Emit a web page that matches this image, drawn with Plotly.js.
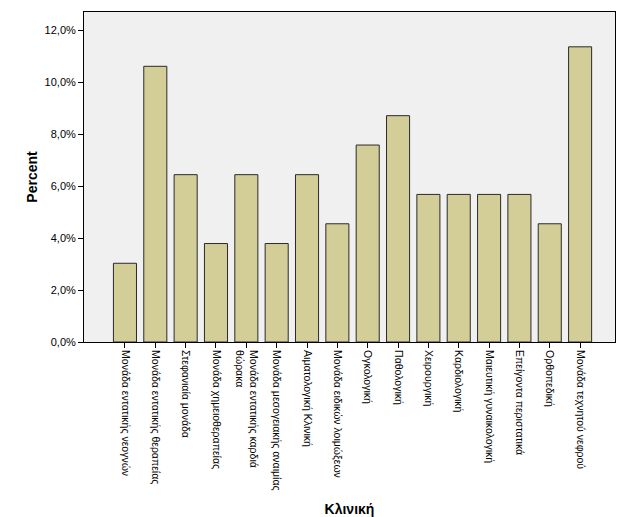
<!DOCTYPE html>
<html>
<head>
<meta charset="utf-8">
<script src="https://cdn.plot.ly/plotly-3.0.1.min.js"></script>
<style>html,body{margin:0;padding:0;background:#fff;}#chart{width:635px;height:517px;}</style>
</head>
<body>
<div id="chart"></div>
<script>
const categories = [
  "Μονάδα εντατικής νεογνών",
  "Μονάδα εντατικής θεραπείας",
  "Στεφανιαία μονάδα",
  "Μονάδα χημειοθεραπείας",
  "Μονάδα εντατικής καρδιά<br>θώρακα",
  "Μονάδα μεσογειακής αναιμίας",
  "Αιματολογική Κλινική",
  "Μονάδα ειδικών λοιμώξεων",
  "Ογκολογική",
  "Παθολογική",
  "Χειρουργική",
  "Καρδιολογική",
  "Μαιευτική γυναικολογική",
  "Επείγοντα περιστατικά",
  "Ορθοπεδική",
  "Μονάδα τεχνητού νεφρού"
];
const percents = [3.03, 10.61, 6.44, 3.79, 6.44, 3.79, 6.44, 4.55, 7.58, 8.71, 5.68, 5.68, 5.68, 5.68, 4.55, 11.36];
const yTicks = [0, 2, 4, 6, 8, 10, 12];

const xIdx = categories.map((c, i) => i);

const trace = {
  type: 'bar',
  x: xIdx,
  y: percents,
  width: 0.76,
  marker: { color: '#d3ce98', line: { color: '#2a2a2a', width: 1 } },
  hoverinfo: 'none'
};

const layout = {
  width: 635, height: 517,
  margin: { l: 84, r: 20, t: 12, b: 175 },
  paper_bgcolor: '#ffffff',
  plot_bgcolor: '#f0f0f0',
  separators: ',.',
  font: { family: 'Liberation Sans, Arial, sans-serif', color: '#000', size: 11 },
  showlegend: false,
  xaxis: {
    range: [-1.35, 16.15],
    tickmode: 'array',
    tickvals: xIdx,
    ticktext: categories,
    tickangle: 90,
    ticks: 'outside', ticklen: 5, tickcolor: '#000',
    showline: true, linecolor: '#000', linewidth: 1, mirror: true,
    showgrid: false, zeroline: false,
    tickfont: { size: 10.5, family: 'Liberation Sans, Arial, sans-serif' },
    title: { text: 'Κλινική', font: { size: 14, family: 'Liberation Sans, Arial, sans-serif', weight: 'bold' }, standoff: 14 },
    automargin: false
  },
  yaxis: {
    range: [0, 12.7],
    tickmode: 'array',
    tickvals: yTicks,
    ticktext: yTicks.map(v => v.toFixed(1).replace('.', ',') + '%'),
    ticks: 'outside', ticklen: 5, tickcolor: '#000',
    showline: true, linecolor: '#000', linewidth: 1, mirror: true,
    showgrid: false, zeroline: false,
    tickfont: { size: 11 },
    title: { text: 'Percent', font: { size: 14, family: 'Liberation Sans, Arial, sans-serif', weight: 'bold' }, standoff: 3 },
    automargin: false
  }
};

Plotly.newPlot('chart', [trace], layout, { displayModeBar: false, staticPlot: true });
</script>
</body>
</html>
